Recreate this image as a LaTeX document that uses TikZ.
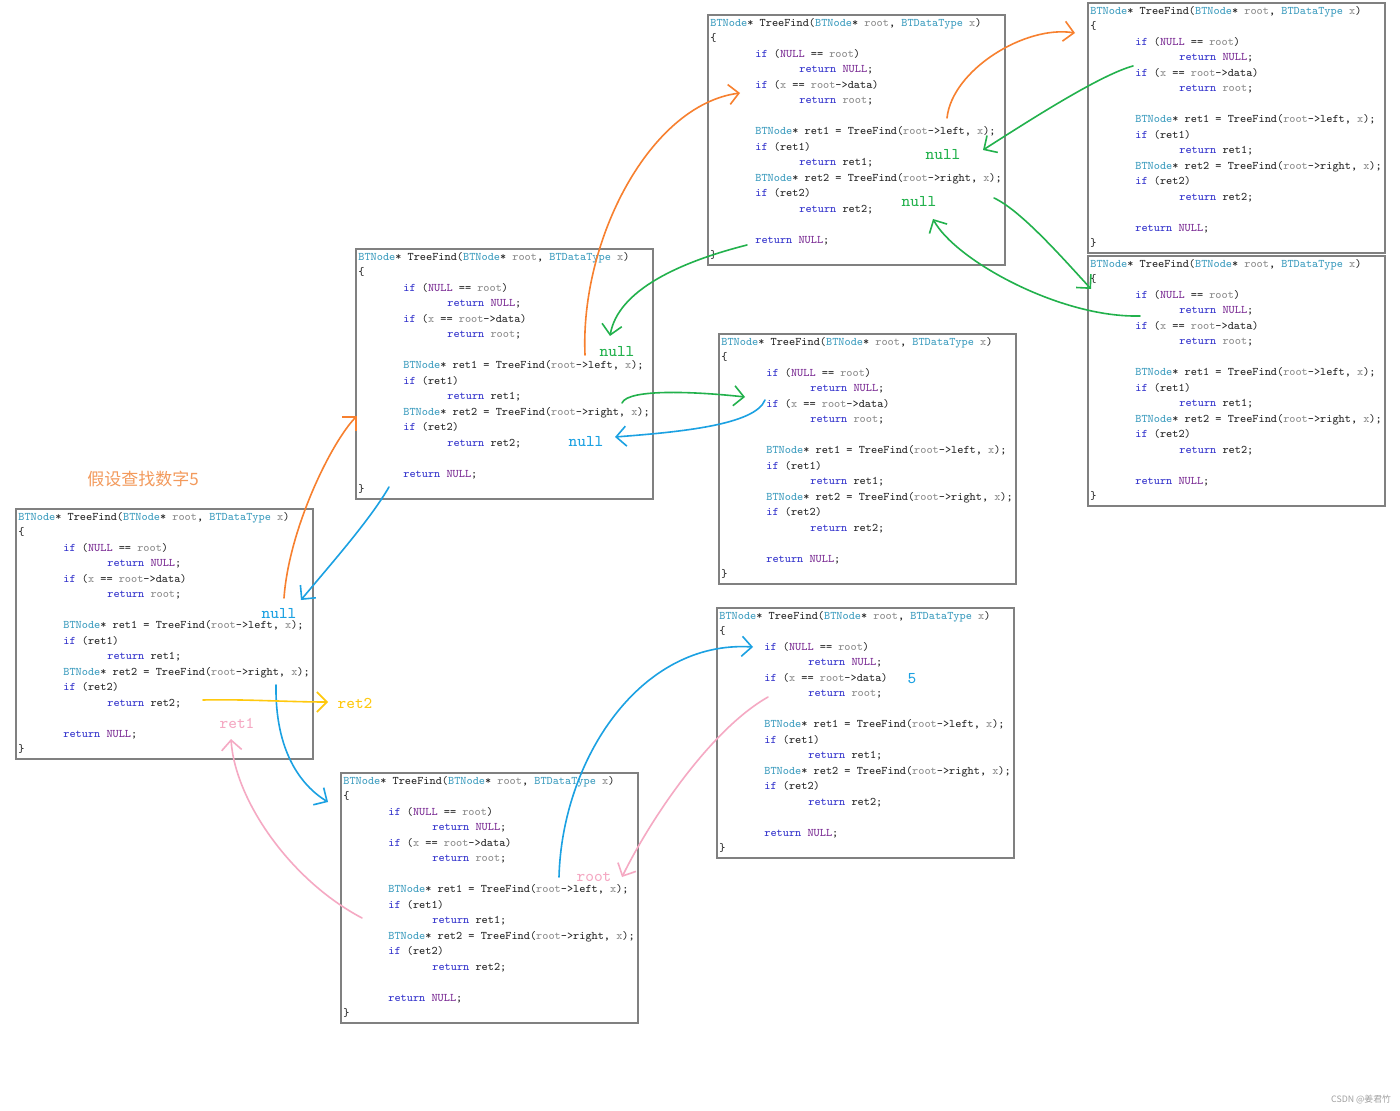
\documentclass[tikz,border=0pt]{standalone}
\usepackage{fontspec}
\usepackage{xcolor}
\usepackage{tikz}
\usetikzlibrary{arrows.meta,calc}
\newfontfamily\cjk{Noto Sans CJK SC}
\definecolor{cType}{HTML}{3E9DBF}
\definecolor{cKey}{HTML}{3333CC}
\definecolor{cNull}{HTML}{7B2C94}
\definecolor{cPar}{HTML}{8C8C8C}
\definecolor{cTxt}{HTML}{262626}
\definecolor{cBox}{HTML}{808080}
\definecolor{cOra}{HTML}{F7802F}
\definecolor{cTitle}{HTML}{F39A5C}
\definecolor{cGrn}{HTML}{22B14C}
\definecolor{cBlu}{HTML}{1BA1E2}
\definecolor{cYel}{HTML}{FFC90E}
\definecolor{cPnk}{HTML}{F5A9C3}
\definecolor{cMark}{HTML}{A0A0A0}
\newcommand\codefont{\fontsize{5.8pt}{7.735pt}\selectfont\ttfamily}
\newcommand\ty[1]{\textcolor{cType}{#1}}
\newcommand\kw[1]{\textcolor{cKey}{#1}}
\newcommand\nl[1]{\textcolor{cNull}{#1}}
\newcommand\pa[1]{\textcolor{cPar}{#1}}
\newcommand\indA{\hspace*{22.5pt}}
\newcommand\indB{\hspace*{44.5pt}}
\newcommand\tfbody{%
  \ty{BTNode}* TreeFind(\ty{BTNode}* \pa{root}, \ty{BTDataType} \pa{x})\\
  \{\\
  \indA\kw{if} (\nl{NULL} == \pa{root})\\
  \indB\kw{return} \nl{NULL};\\
  \indA\kw{if} (\pa{x} == \pa{root}->data)\\
  \indB\kw{return} \pa{root};\\
  \mbox{}\\
  \indA\ty{BTNode}* ret1 = TreeFind(\pa{root}->left, \pa{x});\\
  \indA\kw{if} (ret1)\\
  \indB\kw{return} ret1;\\
  \indA\ty{BTNode}* ret2 = TreeFind(\pa{root}->right, \pa{x});\\
  \indA\kw{if} (ret2)\\
  \indB\kw{return} ret2;\\
  \mbox{}\\
  \indA\kw{return} \nl{NULL};\\
  \}}
\tikzset{
  codebox/.style = {rectangle, draw=cBox, line width=1pt, anchor=north west,
                    inner sep=0pt, outer sep=0pt,
                    minimum width=148.5pt, minimum height=125pt},
  codetxt/.style = {anchor=north west, inner sep=0pt, align=left,
                    font=\codefont, text=cTxt},
  hd/.style      = {line width=0.8pt, line cap=round, line join=round,
                    -{Straight Barb[length=5pt,width=10pt]}},
  tag/.style     = {font=\fontsize{8.2pt}{9pt}\selectfont\ttfamily, inner sep=0pt},
}

\begin{document}
\begin{tikzpicture}[x=0.5pt,y=-0.5pt]
  \fill[white] (0,0) rectangle (1400,1111);
  \useasboundingbox (0,0) rectangle (1400,1111);

  % ---- CALL FRAMES ----
  \foreach \fr/\px/\py in {f0/16/509, fL/356/249, fLL/708/15, fLLL/1088/3,
                           fLLR/1088/256, fLR/719/334, fR/341/773, fRL/717/608} {
    \node[codebox] (\fr) at (\px,\py) {};
    \node[codetxt] (\fr-code) at ([shift={(2,3)}]\fr.north west) {\tfbody};
  }

  % ---- CALLS ----
  \draw[hd, cOra] ([shift={(268,89)}]f0.north west)
    .. controls +(5,-70) and +(-25,25) .. ([shift={(1,167)}]fL.north west);
  \draw[hd, cOra] ([shift={(229,106)}]fL.north west)
    .. controls +(-5,-115) and +(-90,12) .. ([shift={(32,78)}]fLL.north west);
  \draw[hd, cOra] ([shift={(239,103)}]fLL.north west)
    .. controls +(5,-48) and +(-50,-8) .. ([shift={(-13,30)}]fLLL.north west);
  \draw[hd, cGrn] ([shift={(286,183)}]fLL.north west)
    .. controls +(26,12) and +(-31,-34) .. ([shift={(3,33)}]fLLR.north west);
  \draw[hd, cGrn] ([shift={(266,154)}]fL.north west)
    .. controls +(6,-15) and +(-45,-5) .. ([shift={(26,63)}]fLR.north west);
  \draw[hd, cBlu] ([shift={(260,176)}]f0.north west)
    .. controls +(-1,65) and +(-28,-17) .. ([shift={(-13,29)}]fR.north west);
  \draw[hd, cBlu] ([shift={(218,104)}]fR.north west)
    .. controls +(3,-117) and +(-113,-7) .. ([shift={(36,39)}]fRL.north west);

  % ---- RETURNS ----
  \draw[hd, cGrn] ([shift={(45,63)}]fLLL.north west)
    .. controls +(-33,9) and +(47,-30) .. ([shift={(275,135)}]fLL.north west);
  \draw[hd, cGrn] ([shift={(52,60)}]fLLR.north west)
    .. controls +(-80,2) and +(22,41) .. ([shift={(225,204)}]fLL.north west);
  \draw[hd, cGrn] ([shift={(39,230)}]fLL.north west)
    .. controls +(-67,17) and +(8,-46) .. ([shift={(254,87)}]fL.north west);
  \draw[hd, cBlu] ([shift={(46,66)}]fLR.north west)
    .. controls +(-10,25) and +(65,-5) .. ([shift={(259,188)}]fL.north west);
  \draw[hd, cBlu] ([shift={(33,238)}]fL.north west)
    .. controls +(-19,33) and +(29,-35) .. ([shift={(285,91)}]f0.north west);
  \draw[hd, cPnk] ([shift={(51,89)}]fRL.north west)
    .. controls +(-58,33) and +(28,-57) .. ([shift={(281,104)}]fR.north west);
  \draw[hd, cPnk] ([shift={(21,145)}]fR.north west)
    .. controls +(-72,-38) and +(4,61) .. ([shift={(215,230)}]f0.north west);
  \draw[hd, cYel] ([shift={(187,191)}]f0.north west)
    .. controls +(40,-1) and +(-40,0) .. ([shift={(312,193)}]f0.north west);

  % ---- VALUES ----
  \node[tag, text=cGrn] (nullLLa) at ([shift={(235,140)}]fLL.north west) {null};
  \node[tag, text=cGrn] (nullLLb) at ([shift={(211,187)}]fLL.north west) {null};
  \node[tag, text=cGrn] (nullL)   at ([shift={(261,103)}]fL.north west)  {null};
  \node[tag, text=cBlu] (nullLR)  at ([shift={(230,193)}]fL.north west)  {null};
  \node[tag, text=cBlu] (null0)   at ([shift={(263,105)}]f0.north west)  {null};
  \node[tag, text=cYel] (ret2)    at ([shift={(339,194)}]f0.north west)  {ret2};
  \node[tag, text=cPnk] (ret1)    at ([shift={(221,214)}]f0.north west)  {ret1};
  \node[tag, text=cPnk] (rootR)   at ([shift={(253,104)}]fR.north west)  {root};
  \node[tag, text=cBlu] (five)    at ([shift={(195,71)}]fRL.north west)  {5};
  \node[font=\cjk\fontsize{8.5pt}{10pt}\selectfont, text=cTitle, inner sep=0pt]
    (goal) at ([shift={(127,-30)}]f0.north west) {假设查找数字5};
  \node[font=\cjk\fontsize{4.4pt}{5pt}\selectfont, text=cMark, inner sep=0pt]
    (mark) at (1361,1100) {CSDN @姜君竹};
\end{tikzpicture}
\end{document}
